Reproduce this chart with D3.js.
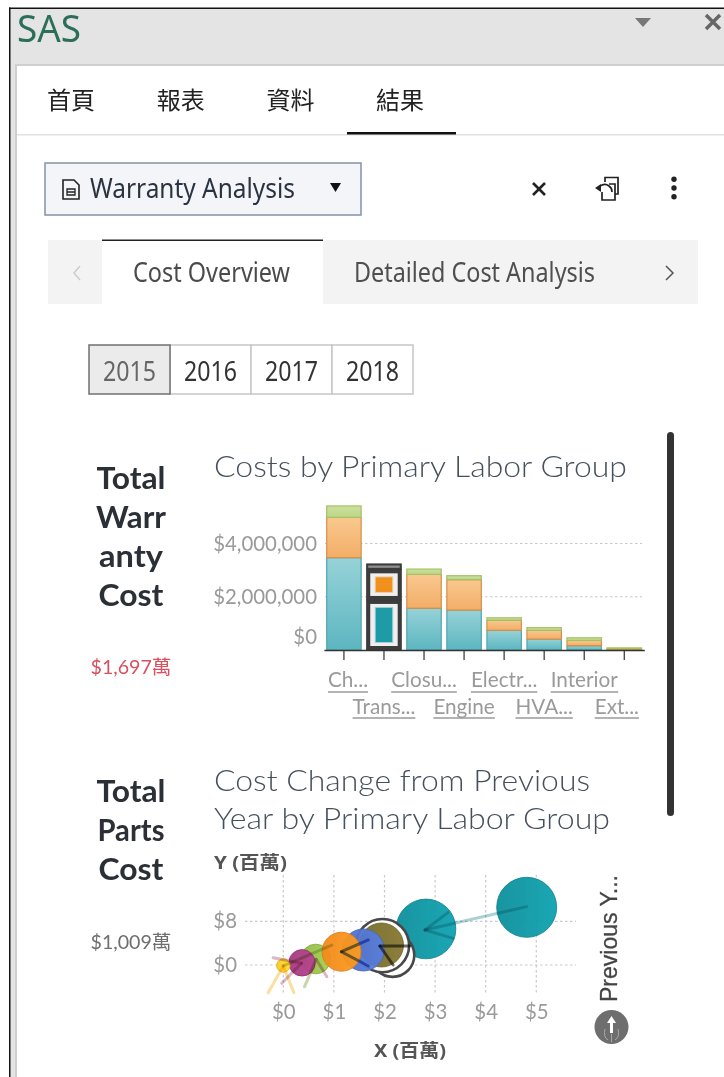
<!DOCTYPE html>
<html>
<head>
<meta charset="utf-8">
<script src="https://cdn.jsdelivr.net/npm/d3@7"></script>
<style>
  html, body { margin: 0; padding: 0; background: #fff; }
  svg { display: block; filter: blur(0.45px); }
  .ui { font-family: "Noto Sans", "Noto Sans CJK TC", sans-serif; }
  .report { font-family: Lato, "Noto Sans CJK TC", sans-serif; }
  .grid { stroke: #c9c9c9; stroke-dasharray: 2.5 2.5; stroke-width: 1.2; }
  .vector { mix-blend-mode: multiply; fill: none; stroke-linecap: round; }
</style>
</head>
<body>
<div id="page"></div>
<script>
// DATA
var topTabs = ["首頁", "報表", "資料", "結果"]
var years = ["2015", "2016", "2017", "2018"]

var laborGroups = ["Chassis", "Transmission", "Closures", "Engine", "Electrical", "HVAC", "Interior", "Exterior"]
var laborLabels = ["Ch...", "Trans...", "Closu...", "Engine", "Electr...", "HVA...", "Interior", "Ext..."]
var laborCost = [3470000, 1880000, 1570000, 1500000, 740000, 410000, 160000, 20000]
var partsCost = [1510000, 1150000, 1270000, 1140000, 375000, 330000, 200000, 30000]
var otherCost = [430000, 200000, 200000, 150000, 95000, 100000, 100000, 30000]
var barTicks = [0, 2000000, 4000000]

// bubbles are listed in the order they are painted
var bubbleSeries = ["Chassis", "Transmission", "Closures", "Engine", "Electrical", "HVAC", "Interior", "Exterior"]
var bubbleX = [4.81, 2.82, 1.94, 1.58, 0.64, 1.15, 0.37, 0]
var bubbleY = [10.56, 6.6, 3.66, 2.75, 1.1, 2.43, 0.4, -0.1]
var bubbleSize = [900, 890, 484, 441, 220, 380, 175, 45]
var selectedRingX = [2.16, 1.96]
var selectedRingY = [1.8, 3.55]
var selectedRingSize = [470, 708]

// previous year vectors, one row per stroke: series, x1, y1, x2, y2
var vectorRows = [
  ["Chassis", 4.81, 10.68, 2.8, 6.41],
  ["Chassis", 2.8, 6.41, 3.26, 9.64],
  ["Chassis", 2.8, 6.41, 3.36, 4.88],
  ["Transmission", 1.91, 3.48, 2.5, 3.48],
  ["Transmission", 1.91, 3.48, 2.17, 0],
  ["Engine", 1.15, 2.43, 1.68, 4.58],
  ["Engine", 1.15, 2.43, 1.68, -0.18],
  ["Electrical", 0, -0.18, 0.96, 3.66],
  ["Electrical", 0.65, 1.04, 0.42, -3.97],
  ["Interior", 0.65, 1.04, 0.86, -2.14],
  ["Interior", 0.36, 0.31, -0.2, 1.34],
  ["Interior", 0.36, 0.31, -0.03, -3.35],
  ["Exterior", 0, -0.18, -0.3, -5.07],
  ["Exterior", 0, -0.18, 0.21, -5.07]
]
var scatterXTicks = [0, 1, 2, 3, 4, 5]
var scatterYTicks = [0, 8]

var selectedGroup = "Transmission"

var svg = d3.select("#page").append("svg").attr("width", 724).attr("height", 1077)
var defs = svg.append("defs")

function addText(parent, cls, str, x, y, size, color, opts) {
  opts = opts || {}
  var t = parent.append("text").attr("class", cls).attr("x", x).attr("y", y)
    .attr("font-size", size).attr("fill", color).text(str)
  if (opts.anchor) t.attr("text-anchor", opts.anchor)
  if (opts.weight) t.attr("font-weight", opts.weight)
  if (opts.len) t.attr("textLength", opts.len).attr("lengthAdjust", "spacingAndGlyphs")
  return t
}

function addPath(d, stroke, width, fill) {
  return svg.append("path").attr("d", d).attr("fill", fill || "none")
    .attr("stroke", stroke).attr("stroke-width", width)
}

// WINDOW FRAME
svg.append("rect").attr("x", 10).attr("y", 8).attr("width", 714).attr("height", 57).attr("fill", "#e4e4e4")
svg.append("rect").attr("x", 10).attr("y", 8).attr("width", 7).attr("height", 1069).attr("fill", "#e4e4e4")
svg.append("rect").attr("x", 15).attr("y", 64).attr("width", 709).attr("height", 2).attr("fill", "#cfcfcf")
svg.append("rect").attr("x", 15).attr("y", 64).attr("width", 2).attr("height", 1013).attr("fill", "#cfcfcf")
svg.append("rect").attr("x", 9).attr("y", 7.5).attr("width", 715).attr("height", 1.5).attr("fill", "#111")
svg.append("rect").attr("x", 9).attr("y", 7.5).attr("width", 1.5).attr("height", 1070).attr("fill", "#111")
addText(svg, "ui", "SAS", 17, 42, 38, "#2c6e5a", {len: 64})
addPath("M635,18H651L643,27Z", "none", 0, "#777")
addPath("M706,15L720,29M720,15L706,29", "#666", 3.5)

// TOP TABS
topTabs.forEach(function(d, i) {
  addText(svg, "ui", d, 71 + i * 109.7, 109, 24, "#222", {anchor: "middle"})
})
svg.append("rect").attr("x", 17).attr("y", 134).attr("width", 707).attr("height", 1.5).attr("fill", "#dfe2e6")
svg.append("rect").attr("x", 347).attr("y", 132).attr("width", 109).attr("height", 2.5).attr("fill", "#111")

// REPORT PICKER
svg.append("rect").attr("x", 45).attr("y", 163).attr("width", 316).attr("height", 52)
  .attr("fill", "#f3f5f9").attr("stroke", "#8491a6").attr("stroke-width", 1.5)
addPath("M63,180H74L79,185V199H63Z", "#222", 1.6)
addPath("M67,189H75V195H67ZM67,192H75", "#222", 1.3)
addText(svg, "ui", "Warranty Analysis", 90, 198, 27, "#2c3340", {len: 205})
addPath("M330,183H341L335.500,192Z", "none", 0, "#111")
addPath("M533,183L545,195M545,183L533,195", "#222", 2.6)
addPath("M605,182V177.500H618V194H615", "#222", 1.7)
addPath("M602,192V200H615V184H609", "#222", 1.7)
addPath("M598,188Q604,182 609,186Q612,188 612,192", "#222", 1.7)
addPath("M595,188L601,184V192Z", "none", 0, "#222")
;[179.3, 188, 196.7].forEach(function(cy) {
  svg.append("circle").attr("cx", 674).attr("cy", cy).attr("r", 2.7).attr("fill", "#222")
})

// PAGE TABS
svg.append("rect").attr("x", 48).attr("y", 240).attr("width", 650).attr("height", 64).attr("fill", "#f3f3f3")
svg.append("rect").attr("x", 102).attr("y", 240).attr("width", 221).attr("height", 64).attr("fill", "#fff")
svg.append("rect").attr("x", 102).attr("y", 239.5).attr("width", 221).attr("height", 1.5).attr("fill", "#222")
addPath("M80,266L74,273L80,280", "#ccc", 1.5)
addPath("M666,266L673,273L666,280", "#555", 1.5)
addText(svg, "ui", "Cost Overview", 133, 282, 27, "#4b4b4b", {len: 157})
addText(svg, "ui", "Detailed Cost Analysis", 354, 282, 27, "#4f4f4f", {len: 241})

// YEAR BUTTONS
var yearScale = d3.scaleBand().domain(years).range([89, 413])
years.forEach(function(d, i) {
  if (i > 0) svg.append("rect").attr("x", yearScale(d)).attr("y", 345).attr("width", yearScale.bandwidth()).attr("height", 49)
    .attr("fill", "#fff").attr("stroke", "#c6c6c6").attr("stroke-width", 1.5)
})
svg.append("rect").attr("x", yearScale("2015")).attr("y", 345).attr("width", yearScale.bandwidth()).attr("height", 49)
  .attr("fill", "#ebebeb").attr("stroke", "#707070").attr("stroke-width", 1.5)
years.forEach(function(d, i) {
  addText(svg, "ui", d, yearScale(d) + yearScale.bandwidth() / 2, 380.5, 27, i == 0 ? "#666" : "#333", {anchor: "middle", len: 53})
})

// KPI COLUMN
;[["Total", 489, 69], ["Warr", 528, 70], ["anty", 567, 64], ["Cost", 606, 65], ["Total", 802, 69], ["Parts", 841, 67], ["Cost", 880, 65]].forEach(function(d) {
  addText(svg, "report", d[0], 131, d[1], 31, "#2b2f36", {anchor: "middle", weight: 700, len: d[2]})
})
addText(svg, "report", "$1,697萬", 131, 674, 19, "#d9505e", {anchor: "middle", len: 81})
addText(svg, "report", "$1,009萬", 131, 949, 19, "#6f6f6f", {anchor: "middle", len: 81})

// scroll bar
svg.append("rect").attr("x", 667).attr("y", 432).attr("width", 7).attr("height", 384).attr("rx", 3.5).attr("fill", "#333")

// TITLES
addText(svg, "report", "Costs by Primary Labor Group", 214, 477, 29, "#46505c", {len: 413, weight: 300})
addText(svg, "report", "Cost Change from Previous", 214, 791, 29, "#46505c", {len: 376, weight: 300})
addText(svg, "report", "Year by Primary Labor Group", 214, 829, 29, "#46505c", {len: 396, weight: 300})

// BAR CHART
var xBar = d3.scaleBand().domain(laborGroups).range([323.9, 644.3]).paddingInner(0.14).paddingOuter(0.07)
var yBar = d3.scaleLinear().domain([0, 4000000]).range([650, 543.5])

var stackRows = laborGroups.map(function(d, i) {
  return {group: d, labor: laborCost[i], parts: partsCost[i], other: otherCost[i]}
})
var stacked = d3.stack().keys(["labor", "parts", "other"])(stackRows)

var barColors = {
  labor: {top: "#97d2d8", bottom: "#5cb6c0", line: "#4fa7b2", solid: "#1e9ba7"},
  parts: {top: "#f9c88f", bottom: "#f3ae68", line: "#d98f45", solid: "#f0901f"},
  other: {top: "#cde09f", bottom: "#bcd684", line: "#a3c268", solid: "#8f9090"}
}
Object.keys(barColors).forEach(function(k) {
  var g = defs.append("linearGradient").attr("id", "bar-" + k).attr("x1", 0).attr("x2", 0).attr("y1", 0).attr("y2", 1)
  g.append("stop").attr("offset", 0).attr("stop-color", barColors[k].top)
  g.append("stop").attr("offset", 1).attr("stop-color", barColors[k].bottom)
})

svg.append("g").selectAll("line")
  .data(barTicks.slice(1))
  .enter().append("line")
  .attr("class", "grid")
  .attr("x1", 325).attr("x2", 642)
  .attr("y1", function(d) { return yBar(d) })
  .attr("y2", function(d) { return yBar(d) })

var layers = svg.append("g").selectAll("g")
  .data(stacked)
  .enter().append("g")

layers.selectAll("rect")
  .data(function(layer) { return layer.map(function(d) { return {key: layer.key, d: d} }) })
  .enter().append("rect")
  .attr("x", function(s) { return xBar(s.d.data.group) })
  .attr("width", xBar.bandwidth())
  .attr("y", function(s) { return yBar(s.d[1]) })
  .attr("height", function(s) { return yBar(s.d[0]) - yBar(s.d[1]) })
  .attr("fill", function(s) { return s.d.data.group == selectedGroup ? "#3c3c3c" : "url(#bar-" + s.key + ")" })
  .attr("stroke", function(s) { return s.d.data.group == selectedGroup ? "#3c3c3c" : barColors[s.key].line })
  .attr("stroke-width", 1.2)

// the selected group gets a white band and a solid core inside each segment
stacked.forEach(function(layer) {
  var seg = layer[laborGroups.indexOf(selectedGroup)]
  var x0 = xBar(selectedGroup), w = xBar.bandwidth(), top = yBar(seg[1]), h = yBar(seg[0]) - top
  var thin = layer.key == "other"
  if (!thin) {
    svg.append("rect").attr("x", x0 + 3.5).attr("y", top + 4).attr("width", w - 7).attr("height", h - 8).attr("fill", "#efefef")
  }
  var inset = thin ? 1.5 : 9
  svg.append("rect").attr("x", x0 + inset).attr("y", top + (thin ? 1.5 : 8)).attr("width", w - inset * 2)
    .attr("height", h - (thin ? 3 : 16)).attr("fill", barColors[layer.key].solid)
    .attr("stroke", barColors[layer.key].solid).attr("stroke-opacity", 0.35).attr("stroke-width", thin ? 0 : 2)
})

var barAxis = d3.axisLeft(yBar).tickValues(barTicks).tickSize(0).tickFormat(d3.format("$,"))
var barAxisG = svg.append("g").attr("transform", "translate(317,0)").call(barAxis)
barAxisG.select(".domain").remove()
barAxisG.selectAll("text").attr("class", "report").attr("x", 0).attr("font-size", 20.4).attr("fill", "#9a9a9a").style("font-family", null)
  .attr("dy", function(d) { return d == 0 ? "-0.33em" : "0.32em" })

var catAxis = d3.axisBottom(xBar).tickSizeInner(10).tickSizeOuter(0).tickFormat(function(d) { return laborLabels[laborGroups.indexOf(d)] })
var catAxisG = svg.append("g").attr("transform", "translate(0,650)").call(catAxis)
catAxisG.select(".domain").attr("stroke", "#333").attr("stroke-width", 1.6)
catAxisG.selectAll(".tick line").attr("stroke", "#333").attr("stroke-width", 1.2)
catAxisG.selectAll(".tick text").attr("class", "report").attr("font-size", 20.7).attr("fill", "#9a9a9a").style("font-family", null)
  .attr("dy", 0)
  .attr("y", function(d, i) { return i % 2 ? 64 : 37 })
  .each(function(d, i) {
    // staggered labels stay inside the plot, so the end ones get pushed in
    var box = this.getBBox()
    var tickX = xBar(d) + xBar.bandwidth() / 2
    var shift = 0
    if (tickX + box.x < 328) shift = 328 - tickX - box.x
    if (tickX + box.x + box.width > 639) shift = 639 - tickX - box.x - box.width
    d3.select(this).attr("x", shift)
    d3.select(this.parentNode).append("line")
      .attr("x1", box.x + shift).attr("x2", box.x + box.width + shift)
      .attr("y1", i % 2 ? 68 : 42).attr("y2", i % 2 ? 68 : 42)
      .attr("stroke", "#9a9a9a").attr("stroke-width", 1.4)
  })

// SCATTER
var xScatter = d3.scaleLinear().domain([0, 5]).range([283.3, 536.3])
var yScatter = d3.scaleLinear().domain([0, 8]).range([965, 921.3])
var rScatter = d3.scaleSqrt().domain([0, 900]).range([0, 30])
var bubbleColor = d3.scaleOrdinal().domain(bubbleSeries)
  .range(["#0c8f9b", "#0c8f9b", "#766a2a", "#4e6fc6", "#92b847", "#f0891a", "#a23a80", "#f9c825"])
var vectorColor = d3.scaleOrdinal().domain(bubbleSeries)
  .range(["#93c7cc", "#4a4a4a", "#8a6f8a", "#4e6fc6", "#bccb96", "#e0b9a0", "#d3a5b8", "#fcd68a"])

svg.append("g").selectAll("line")
  .data(scatterXTicks)
  .enter().append("line")
  .attr("class", "grid")
  .attr("x1", function(d) { return xScatter(d) })
  .attr("x2", function(d) { return xScatter(d) })
  .attr("y1", 875).attr("y2", 995)

svg.append("g").selectAll("line")
  .data(scatterYTicks)
  .enter().append("line")
  .attr("class", "grid")
  .attr("x1", 245).attr("x2", 576)
  .attr("y1", function(d) { return yScatter(d) })
  .attr("y2", function(d) { return yScatter(d) })

var xAxisG = svg.append("g").attr("transform", "translate(0,1002)")
  .call(d3.axisBottom(xScatter).tickValues(scatterXTicks).tickSize(0).tickFormat(function(d) { return "$" + d }))
xAxisG.select(".domain").remove()
xAxisG.selectAll("text").attr("class", "report").attr("font-size", 20.4).attr("fill", "#9a9a9a").style("font-family", null).attr("y", 0).attr("dy", "0.85em")

var yAxisG = svg.append("g").attr("transform", "translate(237,0)")
  .call(d3.axisLeft(yScatter).tickValues(scatterYTicks).tickSize(0).tickFormat(function(d) { return "$" + d }))
yAxisG.select(".domain").remove()
yAxisG.selectAll("text").attr("class", "report").attr("x", 0).attr("font-size", 20.4).attr("fill", "#9a9a9a").style("font-family", null)

bubbleSeries.forEach(function(d, i) {
  var g = defs.append("linearGradient").attr("id", "bubble-" + i)
  g.append("stop").attr("offset", 0).attr("stop-color", bubbleColor(d))
  g.append("stop").attr("offset", 1).attr("stop-color", d3.color(bubbleColor(d)).brighter(0.35))
})

var bubbles = bubbleSeries.map(function(d, i) {
  return {name: d, index: i, x: bubbleX[i], y: bubbleY[i], size: bubbleSize[i]}
})
var rings = selectedRingX.map(function(d, i) {
  return {x: d, y: selectedRingY[i], size: selectedRingSize[i]}
})

function drawBubbles(data) {
  svg.append("g").selectAll("circle")
    .data(data)
    .enter().append("circle")
    .attr("cx", function(d) { return xScatter(d.x) })
    .attr("cy", function(d) { return yScatter(d.y) })
    .attr("r", function(d) { return rScatter(d.size) })
    .attr("fill", function(d) { return "url(#bubble-" + d.index + ")" })
    .attr("fill-opacity", 0.95)
    .attr("stroke", function(d) { return d3.color(bubbleColor(d.name)).darker(0.3) })
    .attr("stroke-width", 0.8)
}

drawBubbles(bubbles.slice(0, 2))

svg.append("g").selectAll("circle")
  .data(rings)
  .enter().append("circle")
  .attr("cx", function(d) { return xScatter(d.x) })
  .attr("cy", function(d) { return yScatter(d.y) })
  .attr("r", function(d) { return rScatter(d.size) })
  .attr("fill", "#fff")
  .attr("stroke", "#484848")
  .attr("stroke-width", 2.6)

drawBubbles(bubbles.slice(2))

svg.append("g").selectAll("line")
  .data(vectorRows)
  .enter().append("line")
  .attr("class", "vector")
  .attr("x1", function(d) { return xScatter(d[1]) })
  .attr("y1", function(d) { return yScatter(d[2]) })
  .attr("x2", function(d) { return xScatter(d[3]) })
  .attr("y2", function(d) { return yScatter(d[4]) })
  .attr("stroke", function(d) { return vectorColor(d[0]) })
  .attr("stroke-opacity", 0.8)
  .attr("stroke-width", 3)

addText(svg, "ui", "Y (百萬)", 214, 869, 18, "#555", {weight: 700, len: 73})
addText(svg, "ui", "X (百萬)", 410, 1057, 18, "#555", {anchor: "middle", weight: 700, len: 72})

// size legend
svg.append("text").attr("transform", "translate(617,1002) rotate(-90)")
  .style("font-family", "'Liberation Sans', sans-serif")
  .attr("font-size", 24).attr("fill", "#444").attr("stroke", "#444").attr("stroke-width", 0.3)
  .attr("textLength", 127).attr("lengthAdjust", "spacingAndGlyphs").text("Previous Y...")
svg.append("circle").attr("cx", 611.5).attr("cy", 1027).attr("r", 17).attr("fill", "#6e6e6e")
addPath("M611.500,1016L607,1023H610V1033H613V1023H616Z", "none", 0, "#fff")
addPath("M605,1029Q603,1037 608,1040M618,1029Q620,1037 615,1040M611.500,1034V1042", "#a8a8a8", 1)
</script>
</body>
</html>
